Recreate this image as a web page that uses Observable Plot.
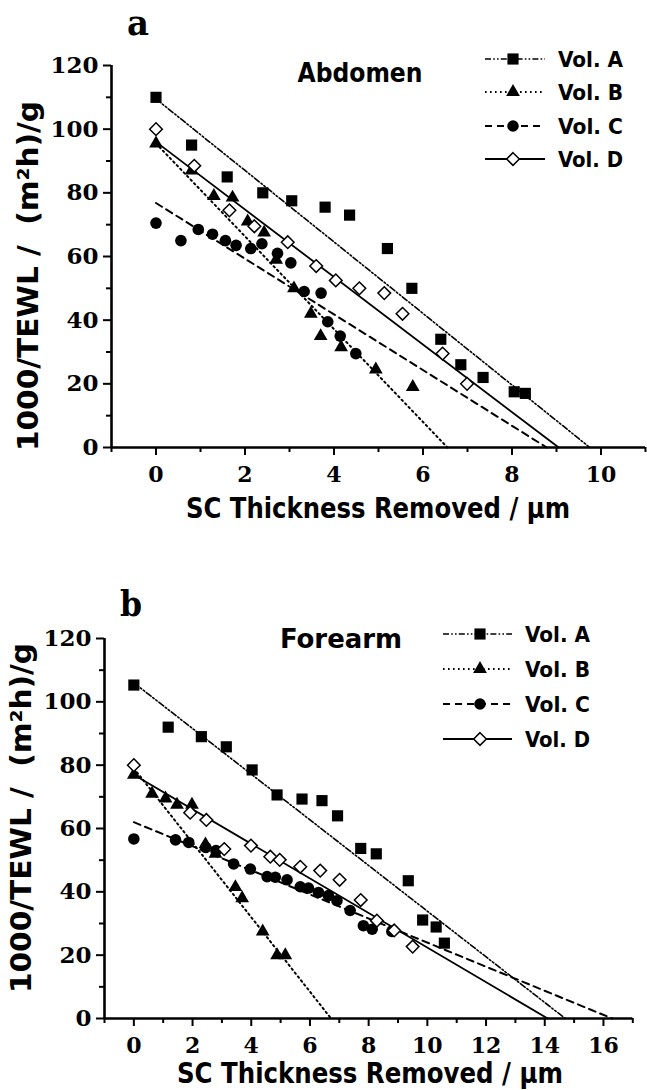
<!DOCTYPE html>
<html>
<head>
<meta charset="utf-8">
<script src="https://cdn.jsdelivr.net/npm/d3@7"></script>
<script src="https://cdn.jsdelivr.net/npm/@observablehq/plot@0.6"></script>
<style>
  html, body { margin: 0; padding: 0; background: #fff; }
  #page { position: relative; width: 647px; height: 1090px; overflow: hidden; }
  #page > svg { position: absolute; left: 0; }
</style>
</head>
<body>
<div id="page"></div>
<script>
// ---------------- DATA ----------------
const volunteers = ["Vol. A", "Vol. B", "Vol. C", "Vol. D"];

// Panel a : Abdomen
const abdVolA_x = [0, 0.8, 1.6, 2.4, 3.05, 3.8, 4.35, 5.2, 5.75, 6.4, 6.85, 7.35, 8.05, 8.3];
const abdVolA_y = [110, 95, 85, 80, 77.5, 75.5, 73, 62.5, 50, 34, 26, 22, 17.5, 17];
const abdVolB_x = [0, 0.8, 1.3, 1.72, 2.06, 2.43, 2.7, 3.1, 3.48, 3.7, 4.16, 4.94, 5.77];
const abdVolB_y = [95.5, 87, 79, 78.5, 71, 67.5, 59, 50, 42, 35, 31.5, 24.5, 19];
const abdVolC_x = [0, 0.56, 0.95, 1.27, 1.56, 1.8, 2.13, 2.38, 2.73, 3.03, 3.33, 3.71, 3.86, 4.14, 4.49];
const abdVolC_y = [70.5, 65, 68.5, 67, 65, 63.5, 62.5, 64, 61, 58, 49, 48.5, 39.5, 35, 29.5];
const abdVolD_x = [0, 0.86, 1.65, 2.21, 2.96, 3.6, 4.04, 4.57, 5.13, 5.54, 6.44, 6.99];
const abdVolD_y = [100, 88.5, 74.5, 69.5, 64.5, 57, 52.5, 50, 48.5, 42, 29.5, 20];
// fitted regression lines: value at x = 0 and x-intercept
const abdFitY0 = [109.5, 95.5, 76.8, 96];
const abdFitX0 = [9.75, 6.55, 8.78, 9.05];

// Panel b : Forearm
const armVolA_x = [0, 1.17, 2.3, 3.15, 4.03, 4.88, 5.73, 6.41, 6.94, 7.73, 8.26, 9.35, 9.84, 10.3, 10.58];
const armVolA_y = [105.3, 92, 89, 85.8, 78.5, 70.6, 69.3, 68.8, 64, 53.7, 52, 43.5, 31.1, 28.9, 23.8];
const armVolB_x = [0, 0.62, 1.08, 1.47, 1.98, 2.44, 2.78, 3.46, 3.69, 4.39, 4.88, 5.16];
const armVolB_y = [77, 71, 69.5, 67.5, 67.5, 55, 52, 41.5, 38, 27.5, 20, 20];
const armVolC_x = [0, 1.42, 1.87, 2.45, 2.8, 3.4, 3.97, 4.54, 4.82, 5.22, 5.67, 5.95, 6.29, 6.63, 6.92, 7.37, 7.82, 8.12, 8.79];
const armVolC_y = [56.7, 56.4, 55.6, 54, 53, 48.8, 47.2, 44.8, 44.6, 43.8, 41.6, 41.2, 39.8, 38.8, 37.2, 34.1, 29.3, 28.2, 27.5];
const armVolD_x = [0, 1.92, 2.47, 3.08, 3.99, 4.65, 4.97, 5.67, 6.35, 7.01, 7.73, 8.28, 8.87, 9.5];
const armVolD_y = [80, 65, 62.7, 53.5, 54.6, 51.1, 50.1, 47.9, 46.7, 43.8, 37.4, 30.9, 27.8, 22.7];
const armFitY0 = [106, 79, 62, 77];
const armFitX0 = [14.7, 6.72, 16.3, 14.1];

// ticks
const abdXMajor = [0, 2, 4, 6, 8, 10];
const abdXMinor = [-1, 1, 3, 5, 7, 9, 11];
const armXMajor = [0, 2, 4, 6, 8, 10, 12, 14, 16];
const armXMinor = [-1, 1, 3, 5, 7, 9, 11, 13, 15, 17];
const yMajor = [0, 20, 40, 60, 80, 100, 120];
const yMinor = [10, 30, 50, 70, 90, 110];

const xLabel = "SC Thickness Removed / µm";
const yLabel = "1000/TEWL /  (m²h)/g";

// ---------------- STYLE ----------------
const SANS = "'DejaVu Sans Condensed', 'DejaVu Sans', 'Liberation Sans', sans-serif";
const SERIF = "'DejaVu Serif', serif";
const look = {
  "Vol. A": {symbol: "square", r: 6.3, fill: "black", stroke: "none", sw: 0, dash: "6,2.2,1.6,2.2,1.6,2.2", lw: 1.6},
  "Vol. B": {symbol: "triangle", r: 5.1, fill: "black", stroke: "none", sw: 0, dash: "1.6,3.4", lw: 2},
  "Vol. C": {symbol: "circle", r: 5.8, fill: "black", stroke: "none", sw: 0, dash: "7,5", lw: 2},
  "Vol. D": {symbol: "diamond2", r: 5.7, fill: "white", stroke: "black", sw: 1.5, dash: null, lw: 1.8}
};

const page = document.getElementById("page");

function drawPanel(p) {
  const marks = [];
  p.series.forEach((s, i) => {
    const L = look[volunteers[i]];
    const seg = [{x: 0, y: p.fitY0[i]}, {x: p.fitX0[i], y: 0}];
    const o = {x: "x", y: "y", stroke: "black", strokeWidth: L.lw};
    if (L.dash) o.strokeDasharray = L.dash;
    marks.push(Plot.line(seg, o));
  });
  p.series.forEach((s, i) => {
    const L = look[volunteers[i]];
    const pts = s.x.map((x, j) => ({x, y: s.y[j]}));
    marks.push(Plot.dot(pts, {x: "x", y: "y", symbol: L.symbol, r: L.r, fill: L.fill, stroke: L.stroke, strokeWidth: L.sw}));
  });
  marks.push(
    Plot.axisX(p.xMinor, {tickSize: 5, tickFormat: () => "", strokeWidth: 2, label: null}),
    Plot.axisX(p.xMajor, {tickSize: 8, tickPadding: 11, strokeWidth: 2, fontSize: 22, fontWeight: "bold", fontFamily: SERIF, label: null}),
    Plot.axisY(yMinor, {tickSize: 5, tickFormat: () => "", strokeWidth: 2, label: null}),
    Plot.axisY(yMajor, {tickSize: 8, tickPadding: 5, strokeWidth: 2, fontSize: 23, fontWeight: "bold", fontFamily: SERIF, label: null}),
    Plot.ruleY([0], {strokeWidth: 2.6}),
    Plot.ruleX([p.xDomain[0]], {strokeWidth: 2.6})
  );
  const svg = Plot.plot({
    width: 647, height: p.height,
    marginLeft: p.ml, marginRight: p.mr, marginTop: p.mt, marginBottom: p.mb,
    x: {domain: p.xDomain}, y: {domain: [0, 120]},
    style: {background: "white", color: "black", fontFamily: SERIF, overflow: "visible"},
    marks
  });
  svg.style.top = p.top + "px";
  page.appendChild(svg);
}

drawPanel({
  top: 0, height: 545, ml: 111, mr: 2, mt: 65, mb: 98, xDomain: [-1, 11],
  xMajor: abdXMajor, xMinor: abdXMinor, fitY0: abdFitY0, fitX0: abdFitX0,
  series: [{x: abdVolA_x, y: abdVolA_y}, {x: abdVolB_x, y: abdVolB_y}, {x: abdVolC_x, y: abdVolC_y}, {x: abdVolD_x, y: abdVolD_y}]
});
drawPanel({
  top: 545, height: 545, ml: 104, mr: 14.7, mt: 93, mb: 72, xDomain: [-1, 17],
  xMajor: armXMajor, xMinor: armXMinor, fitY0: armFitY0, fitX0: armFitX0,
  series: [{x: armVolA_x, y: armVolA_y}, {x: armVolB_x, y: armVolB_y}, {x: armVolC_x, y: armVolC_y}, {x: armVolD_x, y: armVolD_y}]
});

// ---------------- overlay texts & legends ----------------
const ov = d3.select(page).append("svg").attr("width", 647).attr("height", 1090).style("top", "0px");

function txt(x, y, s, size, family, anchor, len, rot) {
  const t = ov.append("text").attr("x", x).attr("y", y).text(s)
    .attr("font-size", size).attr("font-family", family).attr("font-weight", "bold")
    .attr("font-stretch", "condensed")
    .attr("text-anchor", anchor).style("white-space", "pre");
  if (len) t.attr("textLength", len).attr("lengthAdjust", "spacingAndGlyphs");
  if (rot) t.attr("transform", `rotate(-90 ${x} ${y})`).attr("dy", "0.36em");
  return t;
}

// panel letters and site names
txt(138, 35, "a", 36, SERIF, "middle", 22);
txt(131, 616, "b", 36, SERIF, "middle", 22);
txt(360, 82, "Abdomen", 27, SANS, "middle", 125);
txt(341, 648, "Forearm", 27, SANS, "middle", 122);
// axis titles
txt(378, 518, xLabel, 28, SANS, "middle", 384);
txt(370, 1083, xLabel, 28, SANS, "middle", 386);
txt(28, 276, yLabel, 28, SANS, "middle", 350, true);
txt(21, 818, yLabel, 28, SANS, "middle", 350, true);

function legend(rows, x1, x2, mx, tx) {
  const symMap = {square: d3.symbolSquare, triangle: d3.symbolTriangle, circle: d3.symbolCircle, diamond2: d3.symbolDiamond2};
  volunteers.forEach((name, i) => {
    const L = look[name];
    const y = rows[i];
    const ln = ov.append("line").attr("x1", x1).attr("x2", x2).attr("y1", y).attr("y2", y)
      .attr("stroke", "black").attr("stroke-width", L.lw);
    if (L.dash) ln.attr("stroke-dasharray", L.dash);
    ov.append("path").attr("d", d3.symbol(symMap[L.symbol], L.r * L.r * Math.PI)())
      .attr("transform", `translate(${mx},${y})`)
      .attr("fill", L.fill).attr("stroke", L.stroke).attr("stroke-width", L.sw);
    ov.append("text").attr("x", tx).attr("y", y).attr("dy", "0.36em").text(name)
      .attr("font-size", 22).attr("font-family", SANS).attr("font-weight", "bold")
      .attr("font-stretch", "condensed")
      .attr("textLength", 65).attr("lengthAdjust", "spacingAndGlyphs");
  });
}
legend([59, 92, 126, 159], 485, 545, 513, 558);
legend([634, 669, 704, 739], 443, 512, 480, 525);
</script>
</body>
</html>
